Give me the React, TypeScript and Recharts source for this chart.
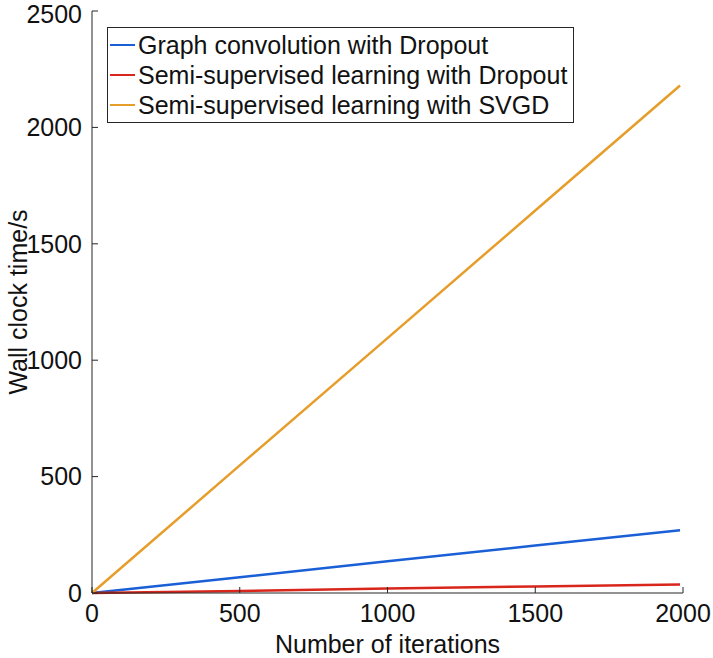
import React from 'react';
import { LineChart, Line, XAxis, YAxis, Label } from 'recharts';

const iterations = [0, 500, 1000, 1500, 1990];
const graphConvDropout = [0, 68, 136, 204, 270];
const semiSupDropout = [0, 9, 19, 28, 37];
const semiSupSVGD = [0, 548, 1095, 1643, 2180];

const xTicks = [0, 500, 1000, 1500, 2000];
const yTicks = [0, 500, 1000, 1500, 2000, 2500];

const series = [
  { key: 'gcn', name: 'Graph convolution with Dropout', color: '#1a5fd6' },
  { key: 'ssd', name: 'Semi-supervised learning with Dropout', color: '#d8261c' },
  { key: 'svgd', name: 'Semi-supervised learning with SVGD', color: '#e69d2a' },
];

const data = iterations.map((it, i) => ({
  it,
  gcn: graphConvDropout[i],
  ssd: semiSupDropout[i],
  svgd: semiSupSVGD[i],
}));

const FONT = '"Liberation Sans", Arial, sans-serif';
const AXIS = '#262626';
const FS = 25;
const tickStyle = { fill: '#111', fontSize: FS, fontFamily: FONT };

// legend drawn as an overlay so it does not eat plot space
const LegendBox = () => (
  <div
    style={{
      position: 'absolute',
      left: 107,
      top: 27,
      border: `1px solid ${AXIS}`,
      background: '#fff',
      padding: '2px 6px 2px 2px',
      fontFamily: FONT,
      fontSize: FS,
      color: '#111',
    }}
  >
    {series.map((s) => (
      <div key={s.key} style={{ display: 'flex', alignItems: 'center', height: 30 }}>
        <div style={{ width: 25, height: 2.5, background: s.color, marginRight: 3 }} />
        <span style={{ whiteSpace: 'nowrap' }}>{s.name}</span>
      </div>
    ))}
  </div>
);

export default function App() {
  return (
    <div style={{ position: 'absolute', left: 0, top: 0, width: 713, height: 658, background: '#fff' }}>
      <LineChart
        width={713}
        height={658}
        data={data}
        margin={{ top: 11, right: 30, bottom: 0, left: 0 }}
      >
        <XAxis
          dataKey="it"
          type="number"
          domain={[0, 2000]}
          ticks={xTicks}
          height={65}
          stroke={AXIS}
          tickSize={-6}
          tickMargin={17}
          tick={tickStyle}
        >
          <Label
            value="Number of iterations"
            position="center"
            dy={19}
            style={{ fill: '#111', fontSize: FS, fontFamily: FONT }}
          />
        </XAxis>
        <XAxis
          xAxisId="top"
          orientation="top"
          type="number"
          domain={[0, 2000]}
          ticks={xTicks}
          height={0}
          stroke={AXIS}
          tickSize={-6}
          tickFormatter={() => ''}
        />
        <YAxis
          type="number"
          domain={[0, 2500]}
          ticks={yTicks}
          width={92}
          stroke={AXIS}
          tickSize={-6}
          tickMargin={16}
          tick={tickStyle}
        >
          <Label
            value="Wall clock time/s"
            position="center"
            angle={-90}
            dx={-28}
            style={{ fill: '#111', fontSize: FS, fontFamily: FONT, textAnchor: 'middle' }}
          />
        </YAxis>
        <YAxis
          yAxisId="right"
          orientation="right"
          type="number"
          domain={[0, 2500]}
          ticks={yTicks}
          width={0}
          stroke={AXIS}
          tickSize={-6}
          tickFormatter={() => ''}
        />
        {series.map((s) => (
          <Line
            key={s.key}
            type="linear"
            dataKey={s.key}
            name={s.name}
            stroke={s.color}
            strokeWidth={2.5}
            dot={false}
            isAnimationActive={false}
          />
        ))}
      </LineChart>
      <LegendBox />
    </div>
  );
}
